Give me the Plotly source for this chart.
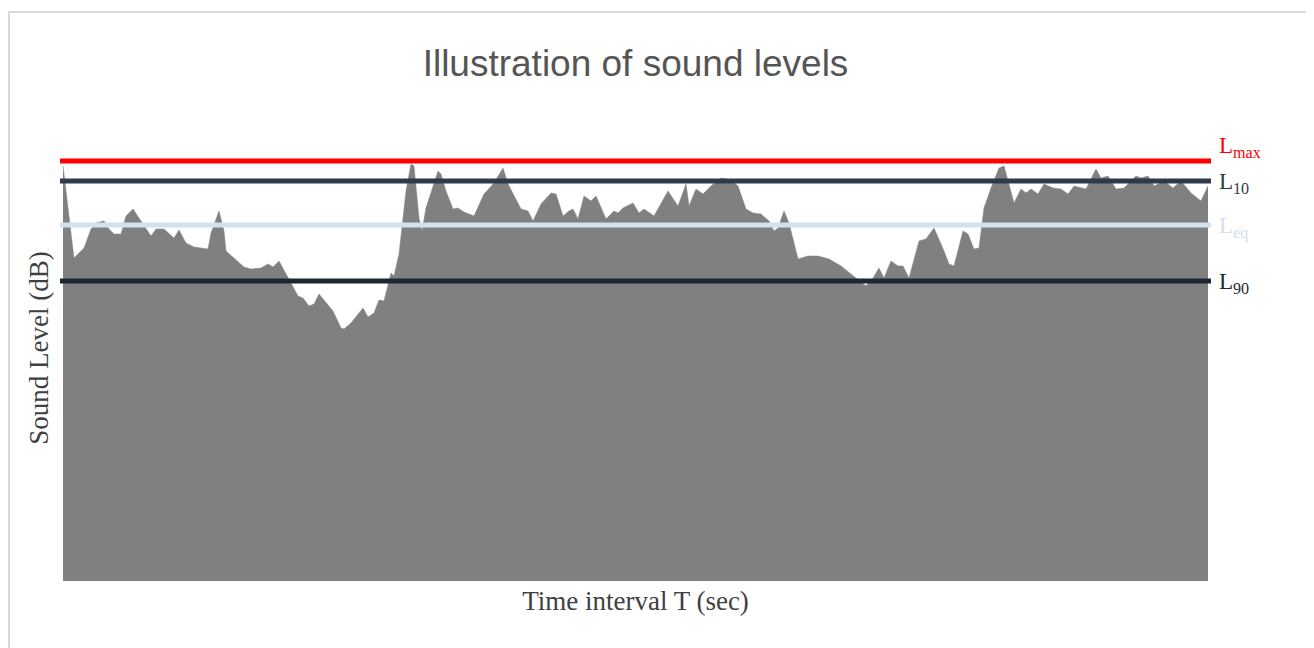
import plotly.graph_objects as go

# Time axis (sec) and sound level samples
time_s = [0, 11, 21, 28, 33, 41, 46, 51, 58, 63, 70, 78, 88, 93, 101, 111, 116, 123, 131, 145,
          148, 156, 161, 163, 171, 181, 188, 198, 205, 210, 216, 223, 228, 235, 240, 246, 251,
          256, 263, 270, 278, 281, 288, 300, 305, 311, 316, 321, 328, 331, 336, 343, 348, 351,
          356, 359, 363, 375, 378, 383, 390, 395, 401, 411, 421, 431, 440, 445, 458, 465, 470,
          478, 488, 493, 500, 506, 510, 515, 521, 528, 533, 543, 551, 555, 560, 570, 576, 581,
          591, 605, 615, 623, 626, 633, 640, 648, 658, 668, 675, 683, 690, 698, 706, 711, 715,
          721, 726, 735, 745, 755, 766, 778, 793, 803, 810, 816, 821, 828, 835, 840, 846, 856,
          863, 871, 881, 886, 891, 900, 905, 911, 916, 921, 928, 936, 941, 946, 951, 958, 963,
          968, 975, 981, 990, 998, 1005, 1011, 1023, 1033, 1038, 1045, 1053, 1061, 1073, 1078,
          1085, 1091, 1101, 1110, 1118, 1128, 1138, 1145]
level = [415, 323, 333, 352, 358, 360, 352, 347, 347, 365, 372, 360, 345, 352, 352, 343, 351,
         338, 334, 332, 348, 370, 350, 330, 323, 314, 312, 313, 317, 314, 320, 308, 298, 285,
         283, 275, 277, 287, 278, 270, 253, 252, 258, 273, 264, 268, 281, 280, 308, 305, 327,
         390, 417, 415, 363, 350, 373, 410, 407, 390, 372, 373, 369, 365, 387, 398, 413, 397,
         372, 370, 360, 377, 388, 387, 365, 370, 372, 362, 385, 380, 385, 362, 370, 368, 373,
         378, 368, 372, 365, 390, 375, 397, 375, 392, 387, 395, 403, 401, 395, 372, 368, 367,
         360, 350, 353, 370, 358, 322, 325, 325, 322, 315, 303, 295, 303, 313, 303, 320, 315,
         315, 303, 340, 342, 353, 330, 317, 315, 350, 347, 332, 333, 373, 393, 413, 415, 397,
         378, 392, 388, 392, 387, 397, 393, 392, 387, 395, 392, 412, 403, 405, 392, 393, 405,
         403, 405, 395, 400, 393, 400, 388, 380, 395]

# Reference levels
ref_names = ["L<sub>max</sub>", "L<sub>10</sub>", "L<sub>eq</sub>", "L<sub>90</sub>"]
ref_levels = [420, 400, 356, 300]
ref_colors = ["#ff0000", "#2e3a47", "#d3e0ee", "#1e2731"]
label_shift = [14, -2, -2, -2]

fig = go.Figure()
fig.add_trace(go.Scatter(
    x=time_s, y=level, mode="lines", fill="tozeroy",
    line=dict(color="#808080", width=0.5), fillcolor="#808080",
    showlegend=False, hoverinfo="skip"))

for name, lv, col, sh in zip(ref_names, ref_levels, ref_colors, label_shift):
    fig.add_shape(type="line", xref="paper", yref="y", x0=0, x1=1, y0=lv, y1=lv,
                  line=dict(color=col, width=5))
    fig.add_annotation(xref="paper", yref="y", x=1, y=lv, xanchor="left", yanchor="middle",
                       xshift=6, yshift=sh, text=name, showarrow=False,
                       font=dict(family="Liberation Serif", size=23, color=col))

# outer light frame
fig.add_shape(type="rect", xref="paper", yref="paper",
              x0=-0.0443, x1=1.0878, y0=-0.5, y1=1.221,
              line=dict(color="#d9d9d9", width=2), layer="below")

fig.update_layout(
    width=1314, height=648,
    margin=dict(l=52, r=111, t=107, b=75),
    paper_bgcolor="white", plot_bgcolor="white",
    title=dict(text="Illustration of sound levels", x=0.5, xref="paper",
               y=1 - 55 / 648, yref="container", yanchor="middle",
               font=dict(family="Liberation Sans", size=37, color="#555555")),
    xaxis=dict(range=[-3, 1148], showgrid=False, zeroline=False, showticklabels=False,
               showline=False, ticks="",
               title=dict(text="Time interval T (sec)", standoff=10,
                          font=dict(family="Liberation Serif", size=27, color="#404040"))),
    yaxis=dict(range=[0, 466], showgrid=False, zeroline=False, showticklabels=False,
               showline=False, ticks="",
               title=dict(text="Sound Level (dB)", standoff=2,
                          font=dict(family="Liberation Serif", size=27, color="#404040"))),
    showlegend=False,
)

fig.write_html("out.html")
